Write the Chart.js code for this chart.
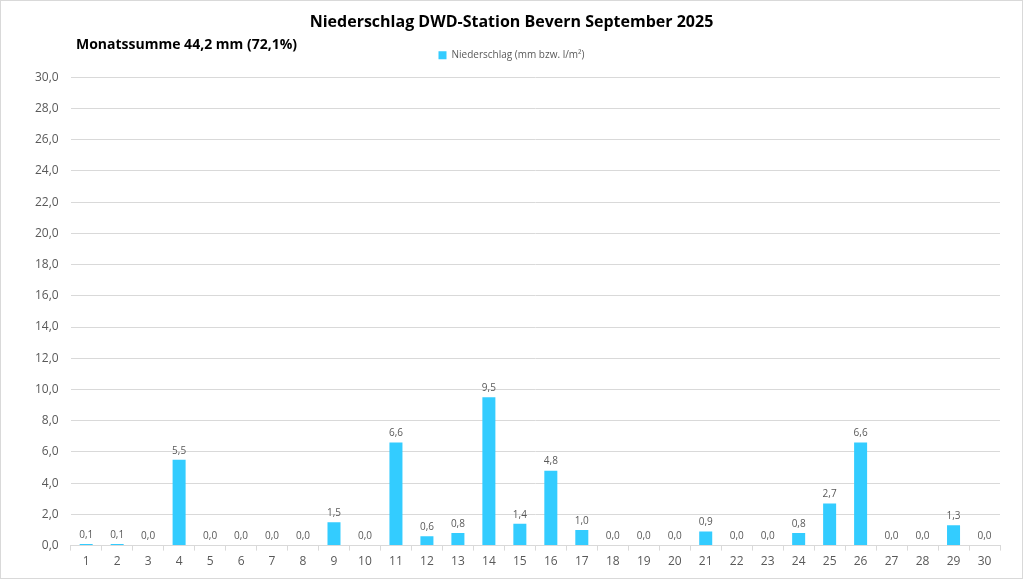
<!DOCTYPE html>
<html lang="de">
<head>
<meta charset="UTF-8" />
<title>Niederschlag DWD-Station Bevern September 2025</title>
<script src="https://cdn.jsdelivr.net/npm/chart.js"></script>
<style>
  html, body { margin: 0; padding: 0; background: #fff; }
  #wrap { position: relative; width: 1021px; height: 577px; border: 1px solid #d9d9d9; }
</style>
</head>
<body>
<div id="wrap"><canvas id="chart"></canvas></div>
<script>
  // Tage im September 2025
  const tage = ["1","2","3","4","5","6","7","8","9","10","11","12","13","14","15",
                "16","17","18","19","20","21","22","23","24","25","26","27","28","29","30"];
  // Niederschlag in mm
  const niederschlag = [0.1, 0.1, 0.0, 5.5, 0.0, 0.0, 0.0, 0.0, 1.5, 0.0,
                        6.6, 0.6, 0.8, 9.5, 1.4, 4.8, 1.0, 0.0, 0.0, 0.0,
                        0.9, 0.0, 0.0, 0.8, 2.7, 6.6, 0.0, 0.0, 1.3, 0.0];
  const titel = "Niederschlag DWD-Station Bevern September 2025";
  const monatssumme = "Monatssumme 44,2 mm (72,1%)";
  const serienName = "Niederschlag (mm bzw. l/m²)";

  const fontFamily = "'Open Sans', 'Noto Sans', sans-serif";
  const fmt = (v) => v.toFixed(1).replace(".", ",");

  // etwas mehr Luft unter der Legende
  const legendAbstand = {
    id: "legendAbstand",
    beforeInit(chart) {
      const fit = chart.legend.fit;
      chart.legend.fit = function () {
        fit.call(this);
        this.height += 7;
      };
    }
  };

  // Werte über den Balken + Monatssumme links oben
  const beschriftung = {
    id: "beschriftung",
    afterDatasetsDraw(chart) {
      const ctx = chart.ctx;
      const meta = chart.getDatasetMeta(0);
      ctx.save();
      ctx.font = "10px " + fontFamily;
      ctx.fillStyle = "#595959";
      ctx.textAlign = "center";
      ctx.textBaseline = "bottom";
      meta.data.forEach((bar, i) => {
        ctx.fillText(fmt(niederschlag[i]), bar.x, bar.y - 4);
      });
      ctx.font = "bold 14px " + fontFamily;
      ctx.fillStyle = "#000";
      ctx.textAlign = "left";
      ctx.textBaseline = "middle";
      ctx.fillText(monatssumme, 75, 44);
      ctx.restore();
    }
  };

  new Chart(document.getElementById("chart"), {
    type: "bar",
    data: {
      labels: tage,
      datasets: [{
        label: serienName,
        data: niederschlag,
        backgroundColor: "#33ccff",
        borderWidth: 0,
        barPercentage: 0.42,
        categoryPercentage: 1.0
      }]
    },
    options: {
      responsive: true,
      maintainAspectRatio: false,
      animation: false,
      layout: { padding: { left: 22, right: 22, top: 10, bottom: 5 } },
      plugins: {
        title: {
          display: true,
          text: titel,
          color: "#000",
          font: { family: fontFamily, size: 16, weight: "bold" },
          padding: { top: 2, bottom: 5 }
        },
        legend: {
          display: true,
          labels: {
            boxWidth: 8,
            boxHeight: 8,
            color: "#595959",
            font: { family: fontFamily, size: 10 },
            padding: 13
          }
        },
        tooltip: { enabled: false }
      },
      scales: {
        x: {
          grid: {
            offset: true,
            drawOnChartArea: false,
            drawTicks: true,
            tickLength: 5,
            color: "#d9d9d9"
          },
          border: { display: true, color: "#d9d9d9" },
          ticks: { color: "#595959", font: { family: fontFamily, size: 12 }, padding: 4 }
        },
        y: {
          min: 0,
          max: 30,
          grid: { color: "#d9d9d9", drawTicks: false },
          border: { display: false },
          ticks: {
            stepSize: 2,
            color: "#595959",
            font: { family: fontFamily, size: 12 },
            padding: 12,
            callback: (v) => fmt(v)
          }
        }
      }
    },
    plugins: [legendAbstand, beschriftung]
  });
</script>
</body>
</html>
